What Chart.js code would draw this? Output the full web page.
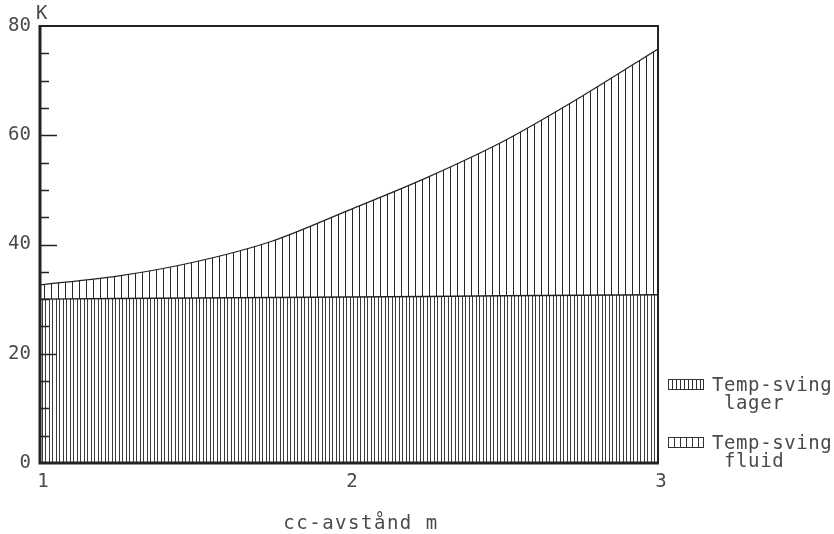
<!DOCTYPE html>
<html>
<head>
<meta charset="utf-8">
<script src="https://cdn.jsdelivr.net/npm/chart.js@4.4.1/dist/chart.umd.min.js"></script>
<style>
  body { margin: 0; background: #fff; }
  canvas { display: block; }
</style>
</head>
<body>
<canvas id="chart" width="834" height="534"></canvas>
<script>
// cc-avstånd (m) och temperatursvängningar (K)
const distances = [1, 1.25, 1.5, 1.75, 2, 2.25, 2.5, 2.75, 3];
const lagerSwing = [30.0, 30.1, 30.2, 30.3, 30.4, 30.5, 30.6, 30.7, 30.8];
const fluidSwing = [2.6, 4.1, 6.6, 10.3, 15.9, 21.7, 28.3, 36.3, 45.0];
const seriesNames = [['Temp-sving', ' lager'], ['Temp-sving', ' fluid']];
const yUnit = 'K';
const xTitle = 'cc-avstånd m';

const INK = '#4a4a4a';
const FRAME = '#222';
const FONT = "'DejaVu Sans Mono', monospace";

function hatch(period, offsets, color) {
    const c = document.createElement('canvas');
    c.width = period;
    c.height = 4;
    const g = c.getContext('2d');
    g.fillStyle = color;
    offsets.forEach(o => g.fillRect(o, 0, 1, 4));
    return g.createPattern(c, 'repeat');
}

const lagerFill = hatch(7, [0, 3], '#3c3c3c');
const fluidFill = hatch(7, [2], '#262626');

const extras = {
    id: 'extras',
    beforeDraw(chart) {
        const ctx = chart.ctx;
        ctx.save();
        ctx.fillStyle = '#fff';
        ctx.fillRect(0, 0, chart.width, chart.height);
        ctx.restore();
    },
    afterDatasetsDraw(chart) {
        const ctx = chart.ctx;
        const a = chart.chartArea;
        const y = chart.scales.y;
        ctx.save();

        // inåtriktade skalstreck
        ctx.strokeStyle = FRAME;
        ctx.lineWidth = 1.5;
        for (let v = 5; v < 80; v += 5) {
            const py = Math.round(y.getPixelForValue(v)) + 0.5;
            const len = v % 20 === 0 ? 17 : 9;
            ctx.beginPath();
            ctx.moveTo(a.left, py);
            ctx.lineTo(a.left + len, py);
            ctx.stroke();
        }

        // ram
        ctx.lineWidth = 2;
        ctx.beginPath();
        ctx.moveTo(a.left, a.top);
        ctx.lineTo(a.right, a.top);
        ctx.lineTo(a.right, a.bottom);
        ctx.stroke();
        ctx.lineWidth = 3;
        ctx.beginPath();
        ctx.moveTo(a.left, a.top - 1);
        ctx.lineTo(a.left, a.bottom);
        ctx.lineTo(a.right + 1, a.bottom);
        ctx.stroke();

        // texter
        ctx.fillStyle = INK;
        ctx.font = '19px ' + FONT;
        ctx.textBaseline = 'alphabetic';
        ctx.textAlign = 'left';
        ctx.fillText(yUnit, a.left - 4, a.top - 7);

        ctx.letterSpacing = '1.5px';
        ctx.textAlign = 'center';
        ctx.fillText(xTitle, (a.left + a.right) / 2 + 12, 529);

        // förklaring
        ctx.letterSpacing = '0.6px';
        ctx.textAlign = 'left';
        const rows = [379, 437];
        const steps = [4, 6];
        seriesNames.forEach((lines, i) => {
            const top = rows[i];
            const x0 = 668, w = 35, h = 10;
            ctx.strokeStyle = '#333';
            ctx.lineWidth = 1;
            ctx.strokeRect(x0 + 0.5, top + 0.5, w, h);
            for (let x = x0 + steps[i]; x < x0 + w; x += steps[i]) {
                ctx.beginPath();
                ctx.moveTo(x + 0.5, top);
                ctx.lineTo(x + 0.5, top + h);
                ctx.stroke();
            }
            ctx.fillText(lines[0], 712, top + 12);
            ctx.fillText(lines[1], 712, top + 30);
        });
        ctx.restore();
    }
};

new Chart(document.getElementById('chart'), {
    type: 'line',
    data: {
        datasets: [{
            label: seriesNames[0].join(''),
            data: distances.map((d, i) => ({ x: d, y: lagerSwing[i] })),
            backgroundColor: lagerFill,
            borderColor: '#222',
            borderWidth: 1.5,
            fill: 'origin',
            pointRadius: 0,
            tension: 0
        }, {
            label: seriesNames[1].join(''),
            data: distances.map((d, i) => ({ x: d, y: fluidSwing[i] })),
            backgroundColor: fluidFill,
            borderColor: '#222',
            borderWidth: 1.2,
            fill: '-1',
            pointRadius: 0,
            cubicInterpolationMode: 'monotone'
        }]
    },
    options: {
        responsive: false,
        animation: false,
        layout: { padding: { top: 26, right: 176, left: 0, bottom: 0 } },
        plugins: {
            legend: { display: false },
            tooltip: { enabled: false }
        },
        scales: {
            x: {
                type: 'linear',
                min: 1,
                max: 3,
                grid: { display: false, drawTicks: false },
                border: { display: false },
                ticks: {
                    stepSize: 1,
                    padding: 8,
                    labelOffset: 3,
                    color: INK,
                    font: { family: FONT, size: 19 }
                },
                afterFit(scale) { scale.height = 71; }
            },
            y: {
                stacked: true,
                min: 0,
                max: 80,
                grid: { display: false, drawTicks: false },
                border: { display: false },
                ticks: {
                    stepSize: 20,
                    padding: 9,
                    color: INK,
                    font: { family: FONT, size: 19 }
                },
                afterFit(scale) { scale.width = 40; }
            }
        }
    },
    plugins: [extras]
});
</script>
</body>
</html>
